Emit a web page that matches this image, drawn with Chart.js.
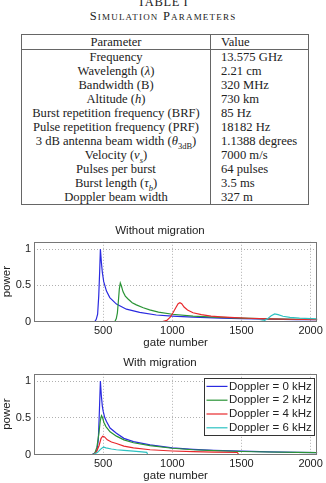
<!DOCTYPE html>
<html>
<head>
<meta charset="utf-8">
<script src="https://cdn.jsdelivr.net/npm/chart.js@4.4.0/dist/chart.umd.min.js"></script>
<style>
  html, body { margin: 0; padding: 0; background: #fff; }
  body { width: 326px; height: 483px; overflow: hidden; position: relative;
         font-family: 'Liberation Serif', 'Times New Roman', serif; color: #222; }
  .caption { position: absolute; left: 0; width: 326px; text-align: center;
             font-size: 12.5px; line-height: 14px; letter-spacing: 0.6px; }
  .cap1 { top: -5px; }
  .cap2 { top: 9px; font-variant: small-caps; letter-spacing: 1.2px; }
  table.params { position: absolute; left: 21px; top: 34px; width: 288px;
                 border-collapse: collapse; font-size: 12.6px; border: 1px solid #666; }
  table.params td, table.params th { padding: 0; line-height: 14px; height: 14px; font-weight: normal; white-space: nowrap; }
  table.params tr.head th { height: 14px; border-bottom: 1px solid #666; }
  table.params .p { width: 188px; text-align: center; border-right: 1px solid #666; }
  table.params .v { text-align: left; padding-left: 10px; }
  sub { font-size: 8.5px; line-height: 0; }
  .wrap { position: absolute; left: 0; width: 326px; }
  #w1 { top: 216px; height: 135px; }
  #w2 { top: 348px; height: 136px; }
</style>
</head>
<body>
<div class="caption cap1">TABLE I</div>
<div class="caption cap2">Simulation Parameters</div>
<table class="params">
  <tr class="head"><th class="p">Parameter</th><th class="v">Value</th></tr>
  <tr><td class="p">Frequency</td><td class="v">13.575 GHz</td></tr>
  <tr><td class="p">Wavelength (<i>λ</i>)</td><td class="v">2.21 cm</td></tr>
  <tr><td class="p">Bandwidth (B)</td><td class="v">320 MHz</td></tr>
  <tr><td class="p">Altitude (<i>h</i>)</td><td class="v">730 km</td></tr>
  <tr><td class="p">Burst repetition frequency (BRF)</td><td class="v">85 Hz</td></tr>
  <tr><td class="p">Pulse repetition frequency (PRF)</td><td class="v">18182 Hz</td></tr>
  <tr><td class="p">3 dB antenna beam width (<i>θ</i><sub>3dB</sub>)</td><td class="v">1.1388 degrees</td></tr>
  <tr><td class="p">Velocity (<i>v<sub>s</sub></i>)</td><td class="v">7000 m/s</td></tr>
  <tr><td class="p">Pulses per burst</td><td class="v">64 pulses</td></tr>
  <tr><td class="p">Burst length (<i>τ<sub>b</sub></i>)</td><td class="v">3.5 ms</td></tr>
  <tr><td class="p">Doppler beam width</td><td class="v">327 m</td></tr>
</table>
<div class="wrap" id="w1"><canvas id="c1"></canvas></div>
<div class="wrap" id="w2"><canvas id="c2"></canvas></div>
<script>
// series labels and colours
const dopplerLabels = ['Doppler = 0 kHz', 'Doppler = 2 kHz', 'Doppler = 4 kHz', 'Doppler = 6 kHz'];
const lineColors = ['#2a2ae0', '#2a9436', '#e8292d', '#2cc2c2'];

const xTicks = [500, 1000, 1500, 2000];
const yTicks = [0, 0.5, 1];

// without migration
const gateNo0 = [0, 440, 450, 460, 468, 475, 480, 487, 494, 504, 524, 548, 596, 668, 764, 884, 1000, 1150, 1350, 1500, 1700, 1900, 2048];
const powNo0  = [0, 0, 0.03, 0.1, 0.35, 0.7, 1.0, 0.82, 0.68, 0.55, 0.42, 0.33, 0.24, 0.17, 0.125, 0.09, 0.075, 0.06, 0.047, 0.039, 0.032, 0.027, 0.024];
const gateNo2 = [0, 585, 595, 603, 610, 617, 624, 632, 644, 660, 680, 710, 740, 790, 836, 900, 1000, 1150, 1300, 1500, 1700, 1900, 2048];
const powNo2  = [0, 0, 0.04, 0.12, 0.28, 0.45, 0.53, 0.49, 0.41, 0.35, 0.31, 0.26, 0.23, 0.19, 0.16, 0.13, 0.1, 0.075, 0.06, 0.046, 0.037, 0.031, 0.028];
const gateNo4 = [0, 930, 960, 985, 1005, 1025, 1042, 1055, 1068, 1085, 1110, 1150, 1210, 1280, 1350, 1450, 1550, 1700, 1850, 2048];
const powNo4  = [0, 0, 0.015, 0.06, 0.12, 0.19, 0.245, 0.26, 0.245, 0.2, 0.16, 0.12, 0.095, 0.075, 0.065, 0.053, 0.045, 0.037, 0.031, 0.026];
const gateNo6 = [0, 1630, 1665, 1690, 1715, 1740, 1765, 1800, 1850, 1920, 2000, 2048];
const powNo6  = [0, 0, 0.012, 0.04, 0.08, 0.105, 0.095, 0.072, 0.058, 0.047, 0.04, 0.037];

// with migration
const gateMig0 = [0, 420, 440, 455, 465, 472, 480, 487, 494, 500, 512, 524, 550, 596, 650, 719, 839, 1000, 1150, 1300, 1500, 1700, 1900, 2048];
const powMig0  = [0, 0, 0.02, 0.06, 0.2, 0.55, 1.0, 0.8, 0.66, 0.59, 0.5, 0.45, 0.36, 0.29, 0.22, 0.175, 0.13, 0.09, 0.07, 0.056, 0.045, 0.036, 0.029, 0.025];
const gateMig2 = [0, 425, 440, 455, 470, 480, 488, 496, 505, 520, 550, 596, 650, 719, 839, 1000, 1150, 1300, 1500, 1700, 1900, 2048];
const powMig2  = [0, 0, 0.02, 0.1, 0.3, 0.47, 0.53, 0.5, 0.44, 0.38, 0.31, 0.25, 0.2, 0.16, 0.12, 0.085, 0.065, 0.052, 0.041, 0.034, 0.028, 0.025];
const gateMig4 = [0, 430, 450, 470, 485, 497, 510, 530, 560, 596, 650, 719, 839, 1000, 1150, 1300, 1470, 1480, 2048];
const powMig4  = [0, 0, 0.03, 0.12, 0.22, 0.25, 0.24, 0.2, 0.17, 0.15, 0.115, 0.09, 0.065, 0.048, 0.038, 0.032, 0.027, 0, 0];
const gateMig6 = [0, 430, 460, 480, 497, 505, 520, 560, 596, 650, 719, 780, 815, 822, 2048];
const powMig6  = [0, 0, 0.03, 0.07, 0.095, 0.1, 0.09, 0.075, 0.065, 0.055, 0.045, 0.036, 0.03, 0, 0];

const sansFont = "'Liberation Sans', Arial, Helvetica, sans-serif";
const textColor = '#222';
const frameColor = '#777';
const gridColor = '#b0b0b0';

function toPoints(gates, pows) {
    return gates.map((g, i) => ({ x: g, y: pows[i] }));
}

function makeDatasets(series) {
    // matlab draws later lines on top -> lower order = on top in chart.js
    return series.map(([g, p], i) => ({
        label: dopplerLabels[i],
        data: toPoints(g, p),
        borderColor: lineColors[i],
        backgroundColor: lineColors[i],
        borderWidth: 1.2,
        pointRadius: 0,
        tension: 0,
        fill: false,
        order: series.length - i
    }));
}

// frame around the plot + boxed legend (matlab style)
const framePlugin = {
    id: 'frame',
    afterDraw(chart, args, opts) {
        const { ctx, chartArea } = chart;
        ctx.save();
        ctx.strokeStyle = frameColor;
        ctx.lineWidth = 1;
        ctx.strokeRect(Math.round(chartArea.left) + 0.5, Math.round(chartArea.top) + 0.5,
            Math.round(chartArea.right - chartArea.left) - 1, Math.round(chartArea.bottom - chartArea.top) - 1);

        if (opts.legend) {
            ctx.font = '11.5px ' + sansFont;
            const sets = chart.data.datasets;
            const rowH = 13.8;
            const sample = 21;
            const textW = Math.max(...sets.map(d => ctx.measureText(d.label).width));
            const w = Math.round(2 + sample + 1.5 + textW + 3);
            const h = Math.round(sets.length * rowH + 2);
            const x = Math.round(chartArea.right - 3.5 - w) + 0.5;
            const y = Math.round(chartArea.top + 4.5) + 0.5;
            ctx.fillStyle = '#fff';
            ctx.fillRect(x, y, w, h);
            ctx.strokeStyle = '#333';
            ctx.strokeRect(x, y, w, h);
            ctx.textBaseline = 'middle';
            sets.forEach((d, i) => {
                const cy = y + 1 + rowH * (i + 0.5);
                ctx.strokeStyle = d.borderColor;
                ctx.lineWidth = 1.2;
                ctx.beginPath();
                ctx.moveTo(x + 2, cy);
                ctx.lineTo(x + 2 + sample, cy);
                ctx.stroke();
                ctx.fillStyle = textColor;
                ctx.fillText(d.label, x + 2 + sample + 1.5, cy);
            });
        }
        ctx.restore();
    }
};

function makeChart(id, title, series, showLegend) {
    return new Chart(document.getElementById(id), {
        type: 'line',
        data: { datasets: makeDatasets(series) },
        options: {
            responsive: true,
            maintainAspectRatio: false,
            animation: false,
            layout: { padding: { left: 0, right: 6, top: 0, bottom: 0 } },
            plugins: {
                legend: { display: false },
                tooltip: { enabled: false },
                title: {
                    display: true, text: title, color: textColor,
                    font: { family: sansFont, size: 11.5, weight: 'normal' },
                    padding: { top: 8, bottom: 4 }
                },
                frame: { legend: showLegend }
            },
            scales: {
                x: {
                    type: 'linear', min: 0, max: 2048,
                    afterBuildTicks: s => { s.ticks = xTicks.map(v => ({ value: v })); },
                    afterFit: s => { s.height = 29.5; },
                    ticks: { color: textColor, font: { family: sansFont, size: 11 }, padding: 3,
                             autoSkip: false, maxRotation: 0, callback: v => String(v) },
                    grid: { color: gridColor, drawTicks: false, borderDash: [1, 2] },
                    border: { display: false, dash: [1, 2] },
                    title: { display: true, text: 'gate number', color: textColor,
                             font: { family: sansFont, size: 11.5 }, padding: { top: 0, bottom: 1 } }
                },
                y: {
                    min: 0, max: 1.1,
                    afterBuildTicks: s => { s.ticks = yTicks.map(v => ({ value: v })); },
                    afterFit: s => { s.width = 34; },
                    ticks: { color: textColor, font: { family: sansFont, size: 11 }, padding: 3,
                             callback: v => String(v) },
                    grid: { color: gridColor, drawTicks: false, borderDash: [1, 2] },
                    border: { display: false, dash: [1, 2] },
                    title: { display: true, text: 'power', color: textColor,
                             font: { family: sansFont, size: 11.5 }, padding: { top: 0, bottom: 0 } }
                }
            }
        },
        plugins: [framePlugin]
    });
}

makeChart('c1', 'Without migration',
    [[gateNo0, powNo0], [gateNo2, powNo2], [gateNo4, powNo4], [gateNo6, powNo6]], false);
makeChart('c2', 'With migration',
    [[gateMig0, powMig0], [gateMig2, powMig2], [gateMig4, powMig4], [gateMig6, powMig6]], true);
</script>
</body>
</html>
